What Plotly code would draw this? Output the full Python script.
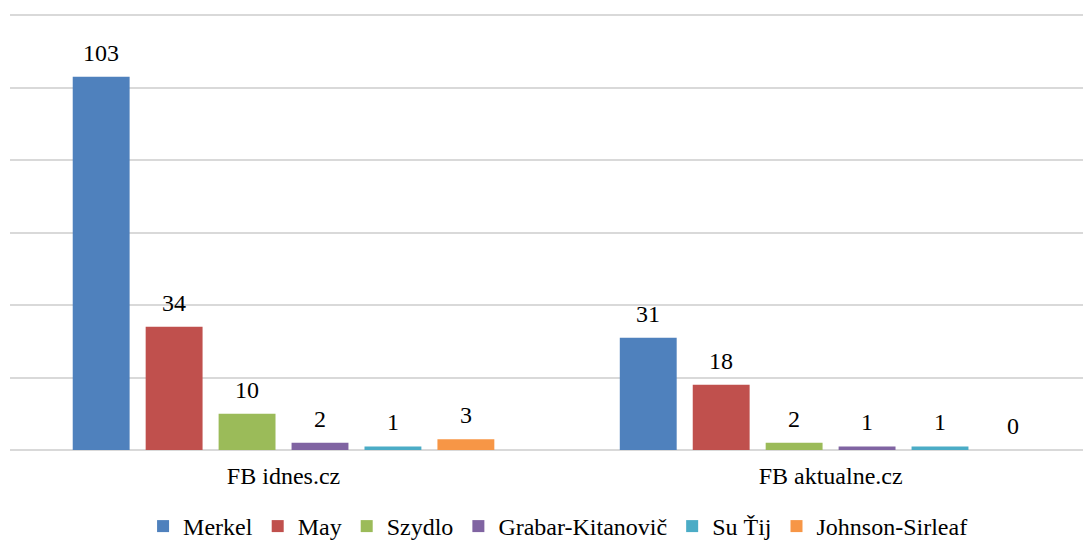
import plotly.graph_objects as go

categories = ["FB idnes.cz", "FB aktualne.cz"]
series_names = ["Merkel", "May", "Szydlo", "Grabar-Kitanovič", "Su Ťij", "Johnson-Sirleaf"]
merkel = [103, 31]
may = [34, 18]
szydlo = [10, 2]
grabar = [2, 1]
su_tij = [1, 1]
johnson = [3, 0]
colors = ["#4F81BD", "#C0504D", "#9BBB59", "#8064A2", "#4BACC6", "#F79646"]

series_values = [merkel, may, szydlo, grabar, su_tij, johnson]

FONT = "Liberation Serif"
FS = 24
BARGAP = 0.2
n = len(series_names)

fig = go.Figure()
annotations = []
for i, (name, vals, col) in enumerate(zip(series_names, series_values, colors)):
    fig.add_trace(go.Bar(
        x=categories, y=vals, name=name,
        marker=dict(color=col, line=dict(width=0)),
    ))
    off = -(1 - BARGAP) / 2 + (1 - BARGAP) * (i + 0.5) / n
    for ci, v in enumerate(vals):
        annotations.append(dict(
            x=ci + off, y=v, xref="x", yref="y", text=str(v), showarrow=False,
            yanchor="middle", yshift=24,
            font=dict(family=FONT, size=FS, color="#000000"),
        ))

fig.update_layout(
    width=1083, height=541,
    margin=dict(l=2, r=0, t=6, b=99),
    paper_bgcolor="white", plot_bgcolor="white",
    barmode="group", bargap=BARGAP, bargroupgap=0.22,
    font=dict(family=FONT, size=FS, color="#000000"),
    annotations=annotations,
    showlegend=True,
    legend=dict(orientation="h", xref="paper", x=0.507, xanchor="center",
                yref="container", y=0.0, yanchor="bottom",
                font=dict(family=FONT, size=FS, color="#000000"),
                itemwidth=30, tracegroupgap=0),
    xaxis=dict(type="category", range=[-0.5, 1.476], showgrid=False,
               showline=False, ticks="outside", ticklen=4, tickcolor="rgba(0,0,0,0)",
               tickfont=dict(family=FONT, size=FS, color="#000000"), zeroline=False),
    yaxis=dict(range=[0, 120.3], tickvals=[0, 20, 40, 60, 80, 100, 120], showgrid=True,
               gridcolor="#D9D9D9", gridwidth=1.5,
               showticklabels=False, zeroline=True, zerolinecolor="#D9D9D9", zerolinewidth=1.5,
               showline=False),
)

fig.write_html("out.html")
